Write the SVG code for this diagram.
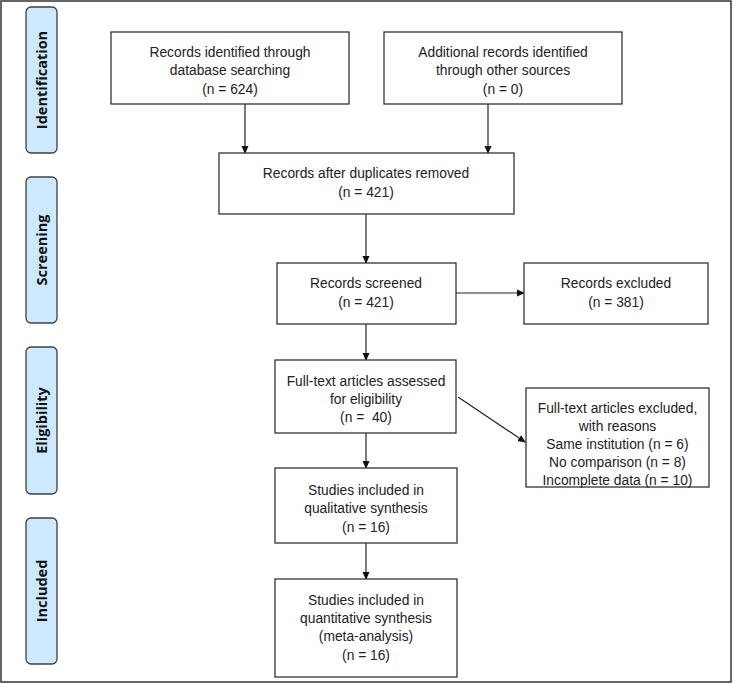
<svg xmlns="http://www.w3.org/2000/svg" width="734" height="684" viewBox="0 0 734 684">
<defs>
<style>
.frame{fill:#fff;stroke:#333;stroke-width:1.5}
.box{fill:#fff;stroke:#333;stroke-width:1.3}
.side{fill:#cce9fd;stroke:#404040;stroke-width:1.3}
.t{font-family:"Liberation Sans",Arial,sans-serif;font-size:13.8px;fill:#222;text-anchor:middle}
.s{font-family:"Open Sans","Liberation Sans",sans-serif;font-size:14.5px;font-weight:bold;fill:#111;text-anchor:middle}
.c{stroke:#222;stroke-width:1.2;fill:none;marker-end:url(#ah)}
</style>
<marker id="ah" markerWidth="8" markerHeight="8" refX="7" refY="4" orient="auto" markerUnits="userSpaceOnUse">
<path d="M0,0.5 L8,4 L0,7.5 Z" fill="#111"/>
</marker>
</defs>
<rect class="frame" x="1" y="1" width="730" height="681"/>
<g id="side-identification"><rect class="side" x="26" y="7" width="31" height="146" rx="5"/><text class="s" transform="translate(46.5,80) rotate(-90)">Identification</text></g>
<g id="side-screening"><rect class="side" x="26" y="177" width="31" height="146" rx="5"/><text class="s" transform="translate(46.5,250) rotate(-90)">Screening</text></g>
<g id="side-eligibility"><rect class="side" x="26" y="347" width="31" height="147" rx="5"/><text class="s" transform="translate(46.5,420.5) rotate(-90)">Eligibility</text></g>
<g id="side-included"><rect class="side" x="26" y="518" width="31" height="146" rx="5"/><text class="s" transform="translate(46.5,591) rotate(-90)">Included</text></g>

<g id="connectors">
<line class="c" x1="245" y1="104" x2="245" y2="153"/>
<line class="c" x1="488" y1="104" x2="488" y2="153"/>
<line class="c" x1="366" y1="214" x2="366" y2="263"/>
<line class="c" x1="456" y1="293" x2="524" y2="293"/>
<line class="c" x1="366" y1="324" x2="366" y2="360"/>
<line class="c" x1="458" y1="397" x2="525" y2="442"/>
<line class="c" x1="366" y1="433" x2="366" y2="468"/>
<line class="c" x1="366" y1="543" x2="366" y2="579"/>
</g>

<g id="n1"><rect class="box" x="111" y="32" width="238" height="72"/>
<text class="t" x="230" y="57">Records identified through</text>
<text class="t" x="230" y="75">database searching</text>
<text class="t" x="230" y="94">(n = 624)</text></g>
<g id="n2"><rect class="box" x="384" y="32" width="238" height="72"/>
<text class="t" x="503" y="57">Additional records identified</text>
<text class="t" x="503" y="75">through other sources</text>
<text class="t" x="503" y="94">(n = 0)</text></g>
<g id="n3"><rect class="box" x="219" y="153" width="295" height="61"/>
<text class="t" x="366" y="178">Records after duplicates removed</text>
<text class="t" x="366" y="197">(n = 421)</text></g>
<g id="n4"><rect class="box" x="277" y="263" width="179" height="61"/>
<text class="t" x="366" y="288">Records screened</text>
<text class="t" x="366" y="307">(n = 421)</text></g>
<g id="n5"><rect class="box" x="524" y="263" width="184" height="61"/>
<text class="t" x="616" y="288">Records excluded</text>
<text class="t" x="616" y="307">(n = 381)</text></g>
<g id="n6"><rect class="box" x="275" y="360" width="181" height="73"/>
<text class="t" x="366" y="386">Full-text articles assessed</text>
<text class="t" x="366" y="404">for eligibility</text>
<text class="t" x="366" y="422">(n =&#160; 40)</text></g>
<g id="n7"><rect class="box" x="526" y="388" width="183" height="99"/>
<text class="t" x="617.5" y="413">Full-text articles excluded,</text>
<text class="t" x="617.5" y="431">with reasons</text>
<text class="t" x="617.5" y="449">Same institution (n = 6)</text>
<text class="t" x="617.5" y="467">No comparison (n = 8)</text>
<text class="t" x="617.5" y="485">Incomplete data (n = 10)</text></g>
<g id="n8"><rect class="box" x="275" y="468" width="182" height="75"/>
<text class="t" x="366" y="495">Studies included in</text>
<text class="t" x="366" y="513">qualitative synthesis</text>
<text class="t" x="366" y="532">(n = 16)</text></g>
<g id="n9"><rect class="box" x="275" y="579" width="182" height="98"/>
<text class="t" x="366" y="605">Studies included in</text>
<text class="t" x="366" y="623">quantitative synthesis</text>
<text class="t" x="366" y="641">(meta-analysis)</text>
<text class="t" x="366" y="660">(n = 16)</text></g>
</svg>
